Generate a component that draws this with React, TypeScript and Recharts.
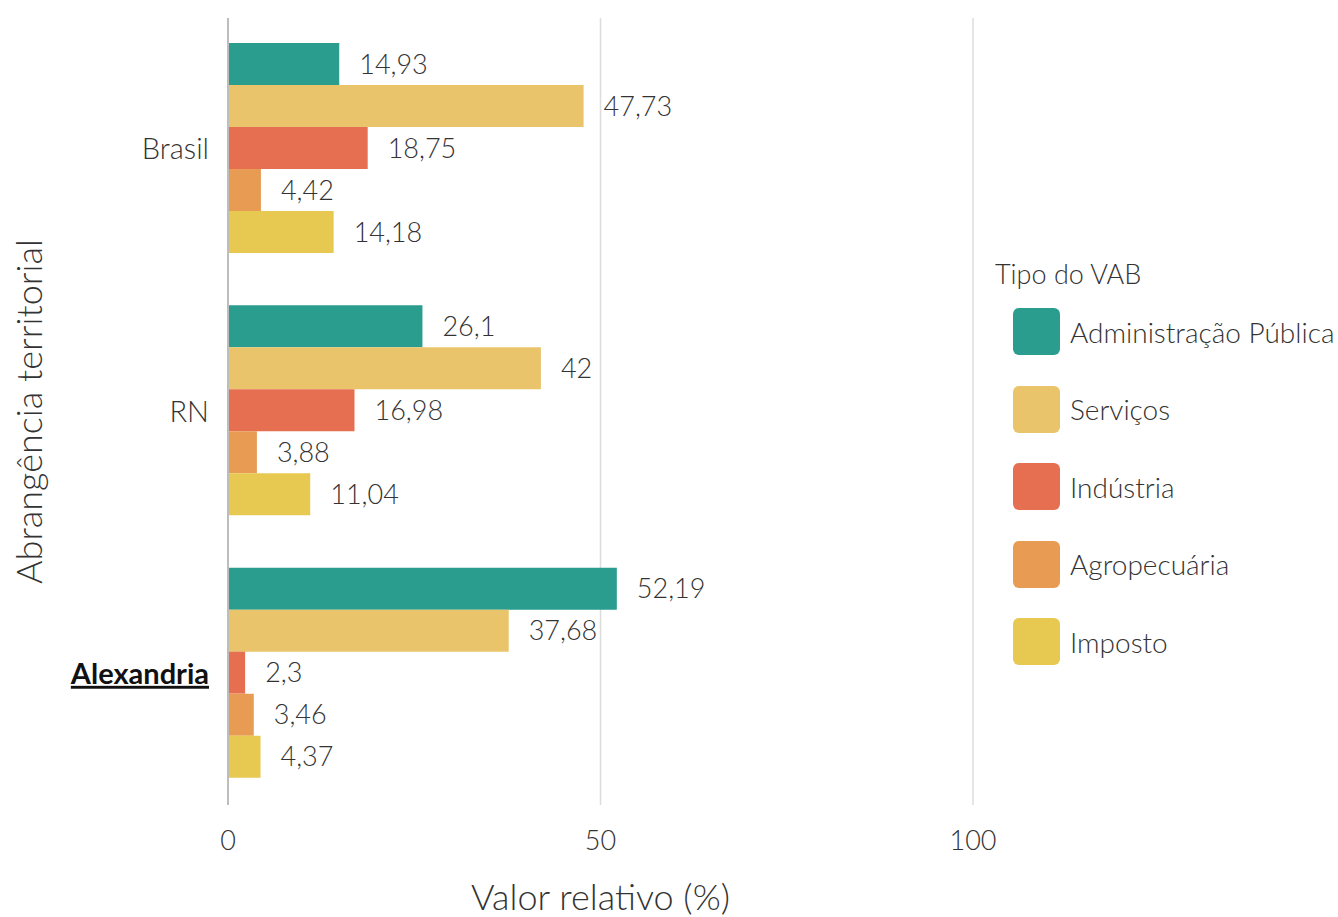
import React from "react";
import {
  BarChart,
  Bar,
  XAxis,
  YAxis,
  CartesianGrid,
  LabelList,
} from "recharts";

// categories (top to bottom) and VAB shares per series
const regions = ["Brasil", "RN", "Alexandria"];
const adminPublica = [14.93, 26.1, 52.19];
const servicos = [47.73, 42, 37.68];
const industria = [18.75, 16.98, 2.3];
const agropecuaria = [4.42, 3.88, 3.46];
const imposto = [14.18, 11.04, 4.37];
const xTicks = [0, 50, 100];

const seriesNames = [
  "Administração Pública",
  "Serviços",
  "Indústria",
  "Agropecuária",
  "Imposto",
];
const seriesKeys = ["admin", "servicos", "industria", "agro", "imposto"];
const seriesColors = ["#2a9d8f", "#e9c46a", "#e76f51", "#e89b52", "#e7c952"];

const data = regions.map((r, i) => ({
  region: r,
  admin: adminPublica[i],
  servicos: servicos[i],
  industria: industria[i],
  agro: agropecuaria[i],
  imposto: imposto[i],
}));

const FONT = "Lato, 'Noto Sans', sans-serif";
const TEXT = "#333";

const fmt = (v: any) => String(v).replace(".", ",");

const CategoryTick = (props: any) => {
  const { x, y, payload } = props;
  const bold = payload.value === "Alexandria";
  return (
    <text
      x={x}
      y={y}
      dy={10}
      textAnchor="end"
      fontFamily={FONT}
      fontSize={29}
      fontWeight={bold ? 700 : 300}
      textDecoration={bold ? "underline" : undefined}
      fill={bold ? "#111" : TEXT}
    >
      {payload.value}
    </text>
  );
};

const YTitle = (props: any) => {
  const vb = props.viewBox || {};
  const cy = vb.y + vb.height / 2;
  return (
    <text
      x={28}
      y={cy}
      transform={`rotate(-90, 28, ${cy})`}
      textAnchor="middle"
      dominantBaseline="central"
      fontFamily={FONT}
      fontSize={36}
      fontWeight={300}
      fill={TEXT}
    >
      Abrangência territorial
    </text>
  );
};

const XTitle = (props: any) => {
  const vb = props.viewBox || {};
  const cx = vb.x + vb.width / 2;
  return (
    <text
      x={cx}
      y={896}
      textAnchor="middle"
      dominantBaseline="central"
      fontFamily={FONT}
      fontSize={36}
      fontWeight={300}
      fill={TEXT}
    >
      Valor relativo (%)
    </text>
  );
};

const LegendBox = () => (
  <div
    style={{
      position: "absolute",
      left: 995,
      top: 256,
      fontFamily: FONT,
      fontWeight: 300,
      color: TEXT,
    }}
  >
    <div style={{ fontSize: 27, height: 36, lineHeight: "36px" }}>Tipo do VAB</div>
    <div style={{ marginTop: 16 }}>
      {seriesNames.map((n, i) => (
        <div
          key={n}
          style={{
            display: "flex",
            alignItems: "center",
            height: 47,
            marginBottom: 30.5,
            marginLeft: 18,
          }}
        >
          <div
            style={{
              width: 47,
              height: 47,
              borderRadius: 6,
              background: seriesColors[i],
              marginRight: 10,
            }}
          />
          <span style={{ fontSize: 28, whiteSpace: "nowrap" }}>{n}</span>
        </div>
      ))}
    </div>
  </div>
);

export default function App() {
  return (
    <div style={{ position: "absolute", left: 0, top: 0, width: 1338, height: 917, background: "#fff" }}>
      <BarChart
        width={1338}
        height={917}
        data={data}
        layout="vertical"
        margin={{ top: 18, right: 365, left: 0, bottom: 0 }}
        barCategoryGap={25}
        barGap={0}
      >
        <CartesianGrid horizontal={false} stroke="#dcdcdc" strokeWidth={1.5} />
        <XAxis
          type="number"
          domain={[0, 100]}
          ticks={xTicks}
          axisLine={false}
          tickLine={false}
          height={112}
          tickMargin={20}
          tick={{ fill: TEXT, fontSize: 27, fontFamily: FONT, fontWeight: 300 }}
          label={{ content: <XTitle /> }}
        />
        <YAxis
          type="category"
          dataKey="region"
          width={228}
          axisLine={{ stroke: "#bdbdbd", strokeWidth: 2 }}
          tickLine={false}
          tickMargin={13}
          tick={<CategoryTick />}
          label={{ content: <YTitle /> }}
        />
        {seriesKeys.map((k, i) => (
          <Bar key={k} dataKey={k} name={seriesNames[i]} fill={seriesColors[i]} isAnimationActive={false}>
            <LabelList
              dataKey={k}
              position="right"
              offset={20}
              formatter={fmt}
              fill={TEXT}
              fontSize={27}
              fontFamily={FONT}
              fontWeight={300}
            />
          </Bar>
        ))}
      </BarChart>
      <LegendBox />
    </div>
  );
}
